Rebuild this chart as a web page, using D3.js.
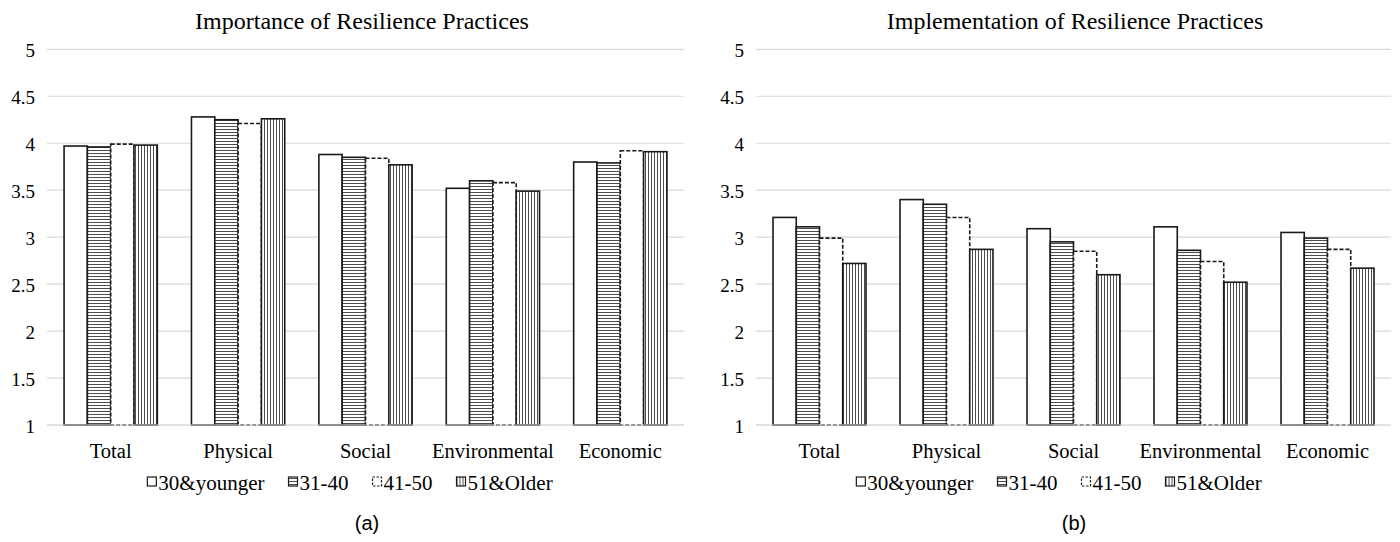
<!DOCTYPE html>
<html><head><meta charset="utf-8">
<script src="https://cdn.jsdelivr.net/npm/d3@7"></script>
<style>body{margin:0;background:#fff}svg{display:block}</style>
</head><body>
<svg id="c" width="1400" height="542"></svg>
<script>
const categories = ["Total","Physical","Social","Environmental","Economic"];
const seriesNames = ["30&younger","31-40","41-50","51&Older"];
const yTicks = [1,1.5,2,2.5,3,3.5,4,4.5,5];
// Importance of Resilience Practices
const imp30 = [3.97, 4.28, 3.88, 3.52, 3.80];
const imp31 = [3.96, 4.25, 3.85, 3.60, 3.79];
const imp41 = [3.99, 4.21, 3.84, 3.58, 3.92];
const imp51 = [3.98, 4.26, 3.77, 3.49, 3.91];
// Implementation of Resilience Practices
const impl30 = [3.21, 3.40, 3.09, 3.11, 3.05];
const impl31 = [3.11, 3.35, 2.95, 2.86, 2.99];
const impl41 = [2.99, 3.21, 2.85, 2.74, 2.87];
const impl51 = [2.72, 2.87, 2.60, 2.52, 2.67];

const svg = d3.select("#c");
const defs = svg.append("defs");
const ph = defs.append("pattern").attr("id","hstripe").attr("patternUnits","userSpaceOnUse").attr("width",4).attr("height",3);
ph.append("rect").attr("width",4).attr("height",3).attr("fill","#fff");
ph.append("line").attr("x1",0).attr("x2",4).attr("y1",0.5).attr("y2",0.5).attr("stroke","#4d4d4d").attr("stroke-width",1);
const pv = defs.append("pattern").attr("id","vstripe").attr("patternUnits","userSpaceOnUse").attr("width",3).attr("height",4);
pv.append("rect").attr("width",3).attr("height",4).attr("fill","#fff");
pv.append("line").attr("y1",0).attr("y2",4).attr("x1",0.5).attr("x2",0.5).attr("stroke","#4d4d4d").attr("stroke-width",1);

const styles = [
  {fill:"#fff", dash:null},
  {fill:"url(#hstripe)", dash:null},
  {fill:"#fff", dash:"4,2"},
  {fill:"url(#vstripe)", dash:null}
];

const serif = "'Liberation Serif','Times New Roman',serif";

function chart(opts){
  const {left, right, top, bottom, title, data, caption, titleX, legendX, capX} = opts;
  const g = svg.append("g");
  const x = d3.scaleBand().domain(categories).range([left,right]).paddingInner(0.268).paddingOuter(0.134);
  const xs = d3.scaleBand().domain(d3.range(4)).range([0,x.bandwidth()]);
  const y = d3.scaleLinear().domain([1,5]).range([bottom,top]);

  g.selectAll("line.grid").data(yTicks).join("line")
    .attr("x1",left).attr("x2",right)
    .attr("y1",d=>y(d)).attr("y2",d=>y(d))
    .attr("stroke","#d9d9d9").attr("stroke-width",1.2);

  const ya = d3.axisLeft(y).tickValues(yTicks).tickSize(0).tickPadding(12).tickFormat(d=>String(d));
  const yg = g.append("g").attr("transform",`translate(${left},1.5)`).call(ya)
    .attr("font-family",serif).attr("font-size",19);
  yg.select(".domain").remove();
  yg.selectAll("text").style("font-family",serif).style("font-size","19px").attr("fill","#000");

  data.forEach((vals,si)=>{
    g.selectAll(null).data(vals).join("rect")
      .attr("x",(d,i)=>x(categories[i])+xs(si))
      .attr("y",d=>y(d))
      .attr("width",xs.bandwidth())
      .attr("height",d=>y(1)-y(d))
      .attr("fill",styles[si].fill)
      .attr("stroke","#1a1a1a")
      .attr("stroke-width",1.6)
      .attr("stroke-dasharray",styles[si].dash);
  });

  g.append("line").attr("x1",left).attr("x2",right).attr("y1",y(1)).attr("y2",y(1))
    .attr("stroke","#d9d9d9").attr("stroke-width",1.2);

  const xa = d3.axisBottom(x).tickSize(0).tickPadding(18);
  const xg = g.append("g").attr("transform",`translate(0,${y(1)})`).call(xa)
    .attr("font-family",serif).attr("font-size",20.5);
  xg.select(".domain").remove();
  xg.selectAll("text").style("font-family",serif).style("font-size","20.5px").attr("fill","#000");

  g.append("text").attr("x",titleX).attr("y",29).attr("text-anchor","middle")
    .style("font-family",serif).style("font-size","24px").text(title);

  const lg = g.append("g");
  let pos = 0;
  const gap = 24;
  seriesNames.forEach((n,si)=>{
    const it = lg.append("g");
    it.append("rect").attr("x",0).attr("y",-13).attr("width",9).attr("height",9)
      .attr("fill",styles[si].fill).attr("stroke","#1a1a1a").attr("stroke-width",1.2)
      .attr("stroke-dasharray",styles[si].dash ? "2.5,1.5" : null);
    const t = it.append("text").attr("x",11).attr("y",0).style("font-family",serif).style("font-size","21px").text(n);
    const w = 11 + t.node().getComputedTextLength();
    it.attr("transform",`translate(${pos},0)`);
    pos += w + gap;
  });
  const total = pos - gap;
  lg.attr("transform",`translate(${legendX - total/2},490)`);

  svg.append("text").attr("x",capX).attr("y",530).attr("text-anchor","middle")
    .style("font-family","'Liberation Sans',Arial,sans-serif").style("font-size","20px").text(caption);
}

chart({left:47,right:684,top:49.3,bottom:425,title:"Importance of Resilience Practices",
  data:[imp30,imp31,imp41,imp51],caption:"(a)",titleX:362,legendX:350,capX:367});
chart({left:756,right:1391,top:49.3,bottom:425,title:"Implementation of Resilience Practices",
  data:[impl30,impl31,impl41,impl51],caption:"(b)",titleX:1075,legendX:1059,capX:1074});
</script>
</body></html>
